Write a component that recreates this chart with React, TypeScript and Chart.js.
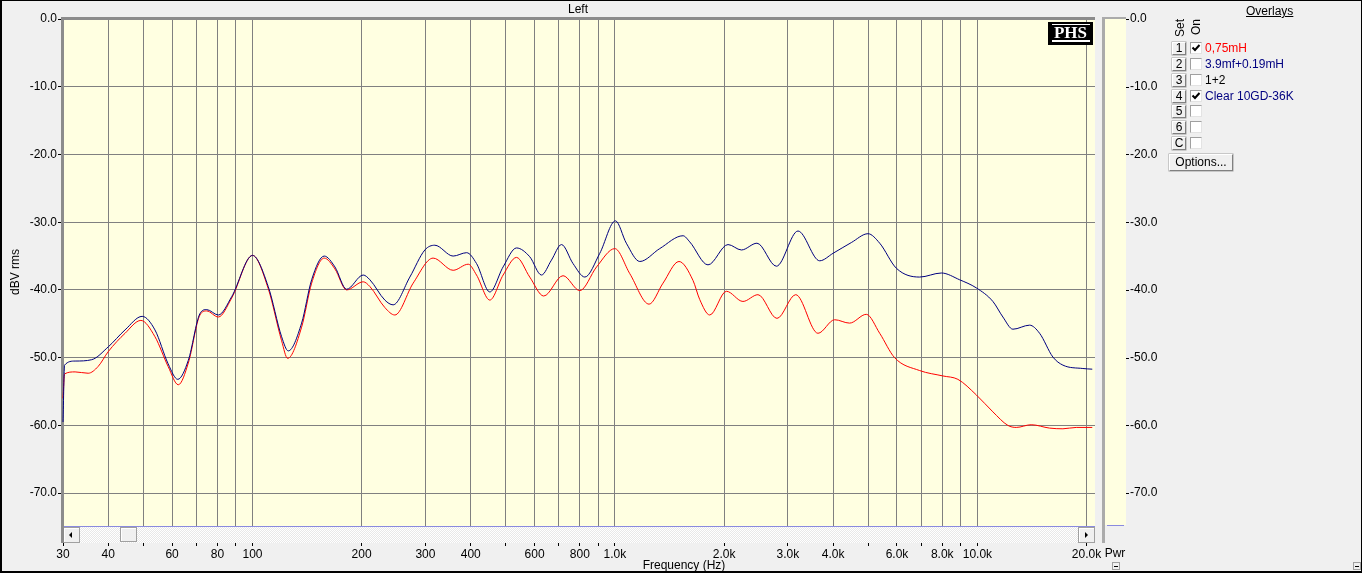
import React, { useEffect, useRef } from 'react';
import { Chart, registerables } from 'chart.js';
Chart.register(...registerables);

// ---------- data ----------
const blueFreq = [30, 30.3, 32.4, 36.0, 40.0, 44.5, 49.6, 53.8, 58.5, 62.2, 66.5, 71.6, 74.7, 80.5, 87.6, 100, 110.5, 120.3, 125.5, 136.6, 145.6, 157.7, 168.8, 181.8, 202, 210.8, 231.8, 244.3, 271.7, 298.9, 318.4, 357.7, 389.7, 415, 451.6, 491.4, 535, 582, 627, 668, 712, 766, 826, 908, 1003, 1075, 1171, 1329, 1541, 1608, 1806, 2051, 2233, 2465, 2789, 3199, 3672, 3995, 4491, 4990, 5376, 5977, 6927, 7954, 8933, 9933, 11034, 11760, 12532, 13932, 14847, 16153, 17214, 19542, 20748];
const blueDb = [-59.5, -51.1, -50.5, -50.3, -48.4, -45.9, -43.9, -45.9, -50.9, -53.2, -50.4, -43.5, -42.9, -43.7, -41.0, -34.9, -39.5, -46.9, -49.0, -44.9, -38.5, -35.0, -36.6, -39.9, -37.8, -38.5, -41.5, -42.2, -38.1, -34.1, -33.4, -35.0, -34.5, -36.1, -40.3, -36.6, -33.8, -35.1, -37.8, -35.6, -33.3, -36.1, -38.1, -34.6, -29.8, -33.1, -35.8, -33.9, -32.0, -32.9, -36.3, -33.3, -34.1, -33.1, -36.5, -31.3, -35.7, -34.6, -33.0, -31.7, -33.1, -36.8, -38.1, -37.5, -38.5, -39.7, -41.7, -44.0, -45.8, -45.2, -46.4, -49.9, -51.1, -51.6, -51.7];

const redFreq = [30, 30.3, 32.4, 35.2, 37.5, 40.0, 44.5, 49.2, 53.8, 58.5, 62.4, 66.5, 71.6, 74.7, 80.5, 87.6, 100, 110.5, 120.3, 125, 136.6, 145.6, 157.7, 168.8, 181.8, 202, 210.8, 231.8, 247, 277.5, 315, 357.7, 393.7, 415, 451.6, 491.4, 535, 582, 636, 719, 800, 890, 999, 1099, 1242, 1357, 1502, 1642, 1713, 1826, 2030, 2255, 2481, 2799, 3153, 3632, 4039, 4440, 4937, 5376, 5910, 6927, 8034, 8835, 9933, 11034, 12138, 12801, 14079, 15816, 17214, 18739, 20748];
const redDb = [-56.0, -52.4, -52.1, -52.3, -51.3, -49.1, -46.4, -44.5, -46.9, -51.3, -54.0, -50.8, -43.7, -43.1, -44.0, -41.2, -34.9, -39.8, -47.5, -50.1, -45.5, -39.0, -35.3, -36.9, -40.0, -38.8, -39.5, -42.6, -43.7, -39.0, -35.3, -37.1, -36.2, -37.8, -41.5, -37.8, -35.2, -38.1, -40.9, -37.9, -40.1, -36.6, -33.9, -37.6, -42.1, -39.0, -35.8, -38.6, -41.4, -43.7, -40.2, -41.7, -40.7, -44.2, -40.7, -46.4, -44.4, -44.9, -43.6, -46.4, -50.0, -51.9, -52.7, -53.2, -55.5, -58.0, -60.0, -60.3, -59.9, -60.4, -60.5, -60.3, -60.3];

const xTickValues = [30, 40, 50, 60, 70, 80, 90, 100, 200, 300, 400, 500, 600, 700, 800, 900, 1000, 2000, 3000, 4000, 5000, 6000, 7000, 8000, 9000, 10000, 20000];
const xTickLabels = ['30', '40', '', '60', '', '80', '', '100', '200', '300', '400', '', '600', '', '800', '', '1.0k', '2.0k', '3.0k', '4.0k', '', '6.0k', '', '8.0k', '', '10.0k', '20.0k'];
const yTickValues = [0, -10, -20, -30, -40, -50, -60, -70];
const yTickLabels = ['0.0', '-10.0', '-20.0', '-30.0', '-40.0', '-50.0', '-60.0', '-70.0'];

const overlaySets = ['1', '2', '3', '4', '5', '6', 'C'];
const overlayOn = [true, false, false, true, false, false, false];
const overlayNames = ['0,75mH', '3.9mf+0.19mH', '1+2', 'Clear 10GD-36K', '', '', ''];
const overlayColors = ['#FF0000', '#000080', '#000000', '#000080', '#000000', '#000000', '#000000'];

// ---------- style ----------
const W = 1362;
const H = 573;
const BG = '#F0F0F0';
const PLOT_BG = '#FFFFE1';
const GRID = '#808080';
const FONT = "'Liberation Sans', Arial, sans-serif";
const X_MIN = 30;
const X_MAX = 21110;
const Y_MIN = -75;
const Y_MAX = 0;

const xLabelMap = new Map<number, string>();
xTickValues.forEach((v, i) => xLabelMap.set(v, xTickLabels[i]));
const yLabelMap = new Map<number, string>();
yTickValues.forEach((v, i) => yLabelMap.set(v, yTickLabels[i]));

function box3d(ctx: CanvasRenderingContext2D, x: number, y: number, w: number, h: number) {
  ctx.fillStyle = '#F0F0F0';
  ctx.fillRect(x, y, w, h);
  ctx.fillStyle = '#A0A0A0';
  ctx.fillRect(x, y, w, 1);
  ctx.fillRect(x, y, 1, h);
  ctx.fillRect(x, y + h - 1, w, 1);
  ctx.fillRect(x + w - 1, y, 1, h);
  ctx.fillStyle = '#FFFFFF';
  ctx.fillRect(x + 1, y + 1, w - 2, 1);
  ctx.fillRect(x + 1, y + 1, 1, h - 2);
}

const decor = {
  id: 'decor',
  beforeDraw(chart: any) {
    const { ctx, chartArea: a } = chart;
    ctx.save();
    ctx.fillStyle = BG;
    ctx.fillRect(0, 0, W, H);
    ctx.fillStyle = PLOT_BG;
    ctx.fillRect(a.left, a.top, a.right - a.left, a.bottom - a.top);
    ctx.restore();
  },
  beforeDatasetsDraw(chart: any) {
    const { ctx, chartArea: a } = chart;
    ctx.save();
    ctx.fillStyle = '#8C8C8C';
    ctx.fillRect(a.left - 2, a.top - 2, a.right - a.left + 2, 3);
    ctx.fillRect(a.left - 2, a.top - 2, 3, a.bottom - a.top + 2);
    ctx.restore();
  },
  afterDraw(chart: any) {
    const { ctx, chartArea: a } = chart;
    ctx.save();
    // scrollbar
    const sy = a.bottom;
    const sh = 16;
    const pc = document.createElement('canvas');
    pc.width = 2;
    pc.height = 2;
    const pctx = pc.getContext('2d')!;
    pctx.fillStyle = '#FFFFFF';
    pctx.fillRect(0, 0, 2, 2);
    pctx.fillStyle = '#E8E8E8';
    pctx.fillRect(1, 0, 1, 1);
    pctx.fillRect(0, 1, 1, 1);
    ctx.fillStyle = ctx.createPattern(pc, 'repeat') || '#F6F6F6';
    ctx.fillRect(a.left, sy, a.right - a.left, sh);
    ctx.fillStyle = '#8A8ADF';
    ctx.fillRect(a.left, sy - 1, a.right - a.left, 1);
    box3d(ctx, a.left, sy, 17, sh);
    box3d(ctx, 120, sy, 17, sh - 1);
    box3d(ctx, a.right - 17, sy, 17, sh);
    ctx.fillStyle = '#000';
    ctx.beginPath();
    ctx.moveTo(a.left + 6, sy + 8);
    ctx.lineTo(a.left + 9, sy + 5);
    ctx.lineTo(a.left + 9, sy + 11);
    ctx.closePath();
    ctx.fill();
    ctx.beginPath();
    ctx.moveTo(a.right - 7, sy + 8);
    ctx.lineTo(a.right - 10, sy + 5);
    ctx.lineTo(a.right - 10, sy + 11);
    ctx.closePath();
    ctx.fill();
    // left border continuing along scrollbar
    ctx.fillStyle = '#8C8C8C';
    ctx.fillRect(a.left - 2, sy - 1, 3, sh + 1);

    // Pwr panel
    const px = 1102;
    ctx.fillStyle = BG;
    ctx.fillRect(a.right, a.top - 3, px - a.right, sy + sh - a.top + 3);
    ctx.fillStyle = '#ABABAB';
    ctx.fillRect(px, a.top - 2, 3, sy + sh - a.top + 2);
    ctx.fillRect(px, a.top - 2, 24, 2);
    ctx.fillStyle = PLOT_BG;
    ctx.fillRect(px + 3, a.top, 21, a.bottom - 2 - a.top);
    ctx.fillStyle = '#8A8ADF';
    ctx.fillRect(px + 5, a.bottom - 2, 17, 1);
    // right ticks dashes
    const y2 = chart.scales.y2;
    ctx.fillStyle = '#000';
    y2.ticks.forEach((t: any) => {
      const yy = Math.round(y2.getPixelForValue(t.value));
      ctx.fillRect(1126, yy, 3, 1);
    });
    ctx.restore();
  },
};

export default function App() {
  const ref = useRef<HTMLCanvasElement>(null);

  useEffect(() => {
    const canvas = ref.current!;
    const tickFont = { family: FONT, size: 12 };
    const chart = new Chart(canvas, {
      type: 'line',
      data: {
        datasets: [
          {
            label: 'Clear 10GD-36K',
            data: blueFreq.map((f, i) => ({ x: f, y: blueDb[i] })),
            borderColor: '#000080',
            borderWidth: 1,
            pointRadius: 0,
            fill: false,
            cubicInterpolationMode: 'monotone',
            clip: { left: 2, top: 0, right: 0, bottom: 0 },
          } as any,
          {
            label: '0,75mH',
            data: redFreq.map((f, i) => ({ x: f, y: redDb[i] })),
            borderColor: '#FF0000',
            borderWidth: 1,
            pointRadius: 0,
            fill: false,
            cubicInterpolationMode: 'monotone',
            clip: { left: 2, top: 0, right: 0, bottom: 0 },
          } as any,
        ],
      },
      options: {
        responsive: false,
        maintainAspectRatio: false,
        animation: false,
        devicePixelRatio: 1,
        events: [],
        layout: { padding: { top: 19, left: 0, right: W - 1095 - 70, bottom: 0 } },
        plugins: { legend: { display: false }, tooltip: { enabled: false }, title: { display: false } },
        scales: {
          x: {
            type: 'logarithmic',
            position: 'bottom',
            min: X_MIN,
            max: X_MAX,
            afterBuildTicks: (s: any) => {
              s.ticks = xTickValues.map((v) => ({ value: v }));
            },
            afterFit: (s: any) => {
              s.height = H - 527;
            },
            ticks: {
              autoSkip: false,
              maxRotation: 0,
              minRotation: 0,
              padding: 1,
              color: '#000',
              font: tickFont,
              callback: (v: any) => xLabelMap.get(Number(v)) ?? '',
            },
            grid: { color: GRID, lineWidth: 1, drawTicks: true, tickLength: 19, tickColor: '#000', tickWidth: 1 },
            border: { display: false },
          },
          y: {
            type: 'linear',
            position: 'left',
            min: Y_MIN,
            max: Y_MAX,
            afterBuildTicks: (s: any) => {
              s.ticks = yTickValues.map((v) => ({ value: v }));
            },
            afterFit: (s: any) => {
              s.width = 63;
            },
            ticks: {
              padding: 1,
              color: '#000',
              font: tickFont,
              callback: (v: any) => yLabelMap.get(Number(v)) ?? '',
            },
            grid: { color: GRID, lineWidth: 1, drawTicks: true, tickLength: 5, tickColor: '#000' },
            border: { display: false },
          },
          y2: {
            type: 'linear',
            position: 'right',
            min: Y_MIN,
            max: Y_MAX,
            afterBuildTicks: (s: any) => {
              s.ticks = yTickValues.map((v) => ({ value: v }));
            },
            afterFit: (s: any) => {
              s.width = 70;
            },
            ticks: {
              padding: 1,
              color: '#000',
              font: tickFont,
              callback: (v: any) => yLabelMap.get(Number(v)) ?? '',
            },
            grid: { display: false, drawTicks: true, tickLength: 34, drawOnChartArea: false },
            border: { display: false },
          },
        },
      } as any,
      plugins: [decor],
    });
    return () => chart.destroy();
  }, []);

  const btn3d: React.CSSProperties = {
    position: 'absolute',
    boxSizing: 'border-box',
    background: '#F0F0F0',
    borderTop: '1px solid #FFFFFF',
    borderLeft: '1px solid #FFFFFF',
    borderRight: '1px solid #808080',
    borderBottom: '1px solid #808080',
    boxShadow: '0 0 0 0.5px #A0A0A0',
    textAlign: 'center',
    color: '#000',
  };

  return (
    <div
      style={{
        position: 'absolute',
        left: 0,
        top: 0,
        width: W,
        height: H,
        background: BG,
        overflow: 'hidden',
        fontFamily: FONT,
        fontSize: 12,
        color: '#000',
      }}
    >
      <canvas ref={ref} width={W} height={H} style={{ position: 'absolute', left: 0, top: 0, width: W, height: H }} />

      {/* title */}
      <div style={{ position: 'absolute', left: 528, top: 2, width: 100, lineHeight: '14px', textAlign: 'center' }}>Left</div>
      {/* y axis title */}
      <div
        style={{
          position: 'absolute',
          left: 15 - 40,
          top: 272 - 7,
          width: 80,
          height: 14,
          lineHeight: '14px',
          textAlign: 'center',
          transform: 'rotate(-90deg)',
        }}
      >
        dBV rms
      </div>
      {/* x axis title */}
      <div style={{ position: 'absolute', left: 634, top: 558, width: 100, lineHeight: '14px', textAlign: 'center' }}>Frequency (Hz)</div>
      <div style={{ position: 'absolute', left: 1095, top: 546, width: 40, lineHeight: '14px', textAlign: 'center' }}>Pwr</div>

      {/* PHS logo */}
      <div style={{ position: 'absolute', left: 1048, top: 22, width: 45, height: 23, background: '#000' }}>
        <div style={{ position: 'absolute', left: 4, top: 2, width: 38, height: 1, background: '#FFF' }} />
        <div
          style={{
            position: 'absolute',
            left: 0,
            top: 2,
            width: 45,
            lineHeight: '18px',
            textAlign: 'center',
            color: '#FFF',
            fontFamily: "'Liberation Serif', 'DejaVu Serif', serif",
            fontWeight: 'bold',
            fontSize: 17,
          }}
        >
          PHS
        </div>
        <div style={{ position: 'absolute', left: 4, top: 18, width: 38, height: 2, background: '#FFF' }} />
      </div>

      {/* Overlays legend */}
      <div style={{ position: 'absolute', left: 1246, top: 4, lineHeight: '14px', textDecoration: 'underline' }}>Overlays</div>
      <div style={{ position: 'absolute', left: 1180 - 15, top: 28 - 7, width: 30, lineHeight: '14px', textAlign: 'center', transform: 'rotate(-90deg)' }}>Set</div>
      <div style={{ position: 'absolute', left: 1196 - 15, top: 27 - 7, width: 30, lineHeight: '14px', textAlign: 'center', transform: 'rotate(-90deg)' }}>On</div>
      {overlaySets.map((s, i) => {
        const top = Math.round(42 + 15.85 * i);
        return (
          <React.Fragment key={s}>
            <div style={{ ...btn3d, left: 1172, top, width: 14, height: 13, lineHeight: '11px' }}>{s}</div>
            <div
              style={{
                position: 'absolute',
                boxSizing: 'border-box',
                left: 1190,
                top: top,
                width: 12,
                height: 12,
                background: '#FFF',
                borderTop: '1px solid #A0A0A0',
                borderLeft: '1px solid #A0A0A0',
                borderRight: '1px solid #E3E3E3',
                borderBottom: '1px solid #E3E3E3',
              }}
            >
              {overlayOn[i] ? (
                <svg width={10} height={10} style={{ position: 'absolute', left: 0, top: 0 }}>
                  <polyline points="1.5,4.5 4,7 8.5,2" fill="none" stroke="#000" strokeWidth={2} />
                </svg>
              ) : null}
            </div>
            <div style={{ position: 'absolute', left: 1205, top: top - 1, lineHeight: '14px', color: overlayColors[i], whiteSpace: 'nowrap' }}>
              {overlayNames[i]}
            </div>
          </React.Fragment>
        );
      })}
      <div style={{ ...btn3d, left: 1169, top: 154, width: 64, height: 17, lineHeight: '15px' }}>Options...</div>

      {/* small minimize boxes */}
      {[1112, 1353].map((x) => (
        <div
          key={x}
          style={{ position: 'absolute', left: x, top: 562, width: 8, height: 8, boxSizing: 'border-box', border: '1px solid #A0A0A0', background: '#F0F0F0' }}
        >
          <div style={{ position: 'absolute', left: 1, top: 3, width: 4, height: 1, background: '#000' }} />
        </div>
      ))}

      {/* outer frame */}
      <div
        style={{
          position: 'absolute',
          left: 0,
          top: 0,
          width: W,
          height: H,
          boxSizing: 'border-box',
          borderTop: '1px solid #000',
          borderLeft: '2px solid #000',
          borderRight: '1px solid #000',
          borderBottom: '2px solid #000',
          pointerEvents: 'none',
        }}
      />
    </div>
  );
}
